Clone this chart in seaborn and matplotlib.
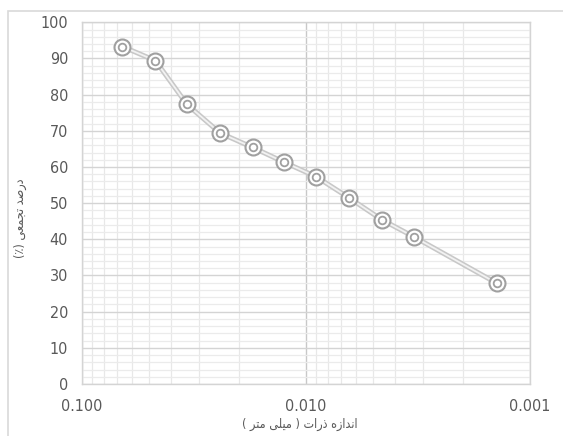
import numpy as np
import pandas as pd
import matplotlib
matplotlib.use("Agg")
import matplotlib.pyplot as plt
from matplotlib.ticker import FixedLocator, NullFormatter
import matplotlib.patches as mpatches
import seaborn as sns

# ---- data ----
particle_size_mm = [0.066, 0.047, 0.034, 0.0242, 0.0173, 0.0126, 0.0090, 0.0064, 0.00458, 0.0033, 0.0014]
cumulative_pct = [93.3, 89.4, 77.3, 69.4, 65.4, 61.4, 57.3, 51.4, 45.4, 40.7, 27.8]
x_tick_values = [0.1, 0.01, 0.001]
x_tick_labels = ["0.100", "0.010", "0.001"]
y_ticks = list(range(0, 101, 10))
x_label = "اندازه ذرات ( میلی متر )"
y_label = "درصد تجمعی (٪)"

# ---- minimal Persian shaping for matplotlib ----
FORMS = {  # isolated, final, initial, medial
    'ا': ('\uFE8D', '\uFE8E', None, None),
    'ب': ('\uFE8F', '\uFE90', '\uFE91', '\uFE92'),
    'ت': ('\uFE95', '\uFE96', '\uFE97', '\uFE98'),
    'ج': ('\uFE9D', '\uFE9E', '\uFE9F', '\uFEA0'),
    'د': ('\uFEA9', '\uFEAA', None, None),
    'ذ': ('\uFEAB', '\uFEAC', None, None),
    'ر': ('\uFEAD', '\uFEAE', None, None),
    'ز': ('\uFEAF', '\uFEB0', None, None),
    'ص': ('\uFEB9', '\uFEBA', '\uFEBB', '\uFEBC'),
    'ع': ('\uFEC9', '\uFECA', '\uFECB', '\uFECC'),
    'ل': ('\uFEDD', '\uFEDE', '\uFEDF', '\uFEE0'),
    'م': ('\uFEE1', '\uFEE2', '\uFEE3', '\uFEE4'),
    'ن': ('\uFEE5', '\uFEE6', '\uFEE7', '\uFEE8'),
    'ه': ('\uFEE9', '\uFEEA', '\uFEEB', '\uFEEC'),
    'و': ('\uFEED', '\uFEEE', None, None),
    'ی': ('\uFBFC', '\uFBFD', '\uFBFE', '\uFBFF'),
}


def dual(c):
    return c in FORMS and FORMS[c][2] is not None


def shape(text):
    out = []
    for i, c in enumerate(text):
        if c not in FORMS:
            out.append(c)
            continue
        prev = text[i - 1] if i > 0 else ''
        nxt = text[i + 1] if i + 1 < len(text) else ''
        jp = dual(prev)
        jn = dual(c) and (nxt in FORMS)
        iso, fin, ini, med = FORMS[c]
        if jp and jn:
            out.append(med)
        elif jp:
            out.append(fin)
        elif jn:
            out.append(ini)
        else:
            out.append(iso)
    vis = ''.join(reversed(out))
    swap = {'(': ')', ')': '('}
    return ''.join(swap.get(ch, ch) for ch in vis)


sns.set_theme(style="white")
plt.rcParams['font.family'] = ['DejaVu Sans']
plt.rcParams['font.stretch'] = 'condensed'

df = pd.DataFrame({"size": particle_size_mm, "pct": cumulative_pct})

fig = plt.figure(figsize=(5.63, 4.36), dpi=100)
ax = fig.add_axes([82 / 563, 1 - 384 / 436, (530 - 82) / 563, (384 - 22.3) / 436])

ax.set_xscale("log")
ax.set_xlim(0.1, 0.001)
ax.set_ylim(0, 100)

# grid
minor_x = [m * 10.0 ** e for e in (-3, -2) for m in range(2, 10)]
ax.xaxis.set_major_locator(FixedLocator(x_tick_values))
ax.xaxis.set_minor_locator(FixedLocator(minor_x))
ax.xaxis.set_minor_formatter(NullFormatter())
ax.set_xticklabels(x_tick_labels)
ax.yaxis.set_major_locator(FixedLocator(y_ticks))
ax.yaxis.set_minor_locator(FixedLocator([v for v in range(0, 101, 2) if v % 10]))
ax.grid(True, which="major", axis="y", color="#d4d4d4", linewidth=1.0)
ax.grid(True, which="minor", axis="y", color="#ebebeb", linewidth=0.9)
ax.grid(True, which="minor", axis="x", color="#e8e8e8", linewidth=0.9)
ax.grid(True, which="major", axis="x", color="#c8c8c8", linewidth=1.0)
ax.tick_params(which="both", length=0)
ax.tick_params(axis="x", pad=11, labelsize=11.5, labelcolor="#595959")
ax.tick_params(axis="y", pad=10, labelsize=11.5, labelcolor="#595959")
for lab in ax.get_xticklabels() + ax.get_yticklabels():
    lab.set_fontstretch('condensed')
for s in ax.spines.values():
    s.set_color("#d4d4d4")
    s.set_linewidth(1.0)
ax.set_axisbelow(True)

# series: double line
sns.lineplot(data=df, x="size", y="pct", ax=ax, color="#c8c8c8", linewidth=3.6, sort=False, zorder=3)
sns.lineplot(data=df, x="size", y="pct", ax=ax, color="#f2f2f2", linewidth=1.3, sort=False, zorder=4)
# markers: double circle
ax.plot(df["size"], df["pct"], linestyle="none", marker="o", markersize=11.5,
        markerfacecolor="white", markeredgecolor="#a0a0a0", markeredgewidth=1.5, zorder=5)
ax.plot(df["size"], df["pct"], linestyle="none", marker="o", markersize=5.5,
        markerfacecolor="white", markeredgecolor="#a0a0a0", markeredgewidth=1.3, zorder=6)

ax.set_xlabel("")
ax.set_ylabel("")

fig.text(300 / 563, 1 - 424 / 436, shape(x_label), ha="center", va="center",
         fontsize=9, color="#595959", family=["DejaVu Sans"])
fig.text(20 / 563, 1 - 218 / 436, shape(y_label), ha="center", va="center", rotation=90,
         fontsize=9, color="#595959", family=["DejaVu Sans"])

# outer chart border
fig.patches.append(mpatches.Rectangle((8 / 563, -0.1), 1.2, 1 - 10.5 / 436 + 0.1,
                                      transform=fig.transFigure, fill=False,
                                      edgecolor="#d9d9d9", linewidth=1.2))

fig.savefig("out.png", dpi=100)
